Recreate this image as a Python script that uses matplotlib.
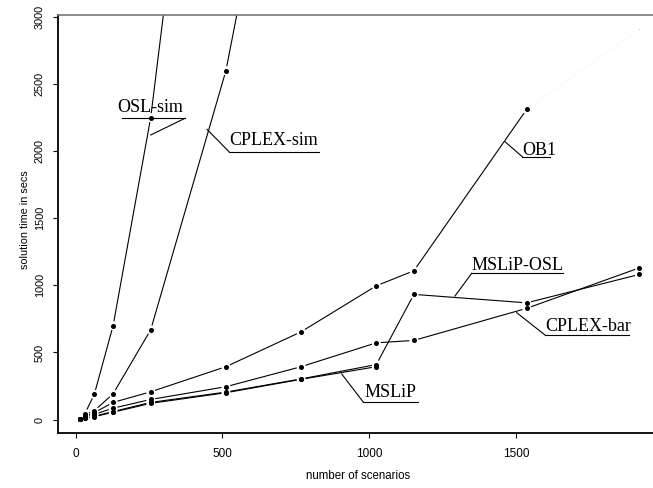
import numpy as np
import matplotlib
matplotlib.use("Agg")
import matplotlib.pyplot as plt

# ---------------- data ----------------
scenarios = [16, 32, 64, 128, 256, 512, 768, 1024, 1152, 1536, 1920]

osl_sim_x = [16, 32, 64, 128, 256, 512]
osl_sim_y = [8, 45, 188, 700, 2250, 6800]

cplex_sim_x = [16, 32, 64, 128, 256, 512, 768]
cplex_sim_y = [6, 35, 66, 192, 669, 2600, 5470]

ob1_x = [16, 32, 64, 128, 256, 512, 768, 1024, 1152, 1536]
ob1_y = [5, 25, 51, 128, 207, 394, 654, 997, 1109, 2312]
ob1_last_x = [1536, 1920]
ob1_last_y = [2312, 2908]

msliposl_x = [16, 32, 64, 128, 256, 512, 768, 1024, 1152, 1536, 1920]
msliposl_y = [3, 12, 25, 60, 128, 205, 303, 410, 933, 870, 1082]

cplexbar_x = [16, 32, 64, 128, 256, 512, 768, 1024, 1152, 1536, 1920]
cplexbar_y = [4, 18, 39, 85, 150, 245, 394, 572, 590, 829, 1131]

mslip_x = [16, 32, 64, 128, 256, 512, 768, 1024]
mslip_y = [3, 10, 21, 55, 121, 200, 300, 394]

x_ticks = [0, 500, 1000, 1500]
y_ticks = [0, 500, 1000, 1500, 2000, 2500, 3000]

labels = ["OSL-sim", "CPLEX-sim", "OB1", "MSLiP-OSL", "CPLEX-bar", "MSLiP"]

# ---------------- figure ----------------
W, H = 653, 488
fig = plt.figure(figsize=(W / 100, H / 100), dpi=100)
ax = fig.add_axes([58 / W, (H - 433) / H, 1 - 58 / W, (433 - 15) / H])
ax.set_xlim(-59.6, 1966)
ax.set_ylim(-100, 3015)

ax.spines["right"].set_visible(False)
ax.spines["top"].set_color("#777777")
ax.spines["top"].set_linewidth(1.2)
ax.spines["left"].set_linewidth(1.3)
ax.spines["bottom"].set_linewidth(1.3)

ax.set_xticks(x_ticks)
ax.set_yticks(y_ticks)
ax.tick_params(axis="both", direction="out", length=3.6, width=0.8)
ax.tick_params(axis="x", pad=7.5, labelsize=8.5)
ax.tick_params(axis="y", pad=6, labelsize=7.8)
for lab in ax.get_yticklabels():
    lab.set_rotation(90)
    lab.set_va("center")
for lab in ax.get_xticklabels() + ax.get_yticklabels():
    lab.set_family("Liberation Sans")

fig.text(358 / W, 1 - 476 / H, "number of scenarios", ha="center", va="center",
         fontsize=8.3, family="Liberation Sans")
fig.text(25 / W, 1 - 220 / H, "solution time in secs", ha="center", va="center",
         rotation=90, fontsize=7.8, family="Liberation Sans")

T = ax.transData
Tinv = T.inverted()
GAP = 4.5


def gapped(xs, ys, color="black", lw=0.8, gap=GAP):
    pts = T.transform(np.column_stack([xs, ys]).astype(float))
    for i in range(len(pts) - 1):
        p0, p1 = pts[i], pts[i + 1]
        d = p1 - p0
        L = np.hypot(*d)
        if L <= 2 * gap:
            continue
        u = d / L
        a = Tinv.transform(p0 + u * gap)
        b = Tinv.transform(p1 - u * gap)
        ax.plot([a[0], b[0]], [a[1], b[1]], color=color, lw=lw,
                solid_capstyle="butt", zorder=2)


series = [
    (osl_sim_x, osl_sim_y),
    (cplex_sim_x, cplex_sim_y),
    (ob1_x, ob1_y),
    (msliposl_x, msliposl_y),
    (cplexbar_x, cplexbar_y),
    (mslip_x, mslip_y),
]
for xs, ys in series:
    gapped(xs, ys)
    ax.plot(xs, ys, ls="none", marker="o", ms=2.6, color="black",
            mec="black", zorder=3)

# very faint last OB1 segment
gapped(ob1_last_x, ob1_last_y, color="#f6f6f6", lw=0.5)
ax.plot(ob1_last_x[1:], ob1_last_y[1:], ls="none", marker="o", ms=1.0,
        color="#d0d0d0", mec="none", zorder=3)


def P(px, py):
    return Tinv.transform((px, H - py))


# label layout in reference pixel coords: text pos, underline, leader start, leader end
label_layout = [
    ((117, 111.7), (122, 185, 118.3), (185, 118.3), (150.7, 135)),
    ((229, 145), (229, 319, 151.7), (229, 151.7), (207, 129.3)),
    ((522.3, 154.5), (522.3, 550, 156.7), (522.3, 156.7), (505, 141.7)),
    ((471.7, 270.5), (471.7, 562.7, 273.3), (471.7, 273.3), (455, 296)),
    ((545, 331), (545, 629.3, 335), (545, 335), (516.7, 312.7)),
    ((365, 397), (363, 418, 401.7), (363, 401.7), (341.7, 374)),
]
for name, (tp, ul, l0, l1) in zip(labels, label_layout):
    tx, ty = P(*tp)
    ax.text(tx, ty, name, ha="left", va="baseline", fontsize=13,
            family="Liberation Serif", zorder=5)
    a = P(ul[0], ul[2])
    b = P(ul[1], ul[2])
    ax.plot([a[0], b[0]], [a[1], b[1]], color="black", lw=0.8, zorder=5)
    c = P(*l0)
    d = P(*l1)
    ax.plot([c[0], d[0]], [c[1], d[1]], color="black", lw=0.8, zorder=5)

fig.savefig("out.png", dpi=100)
